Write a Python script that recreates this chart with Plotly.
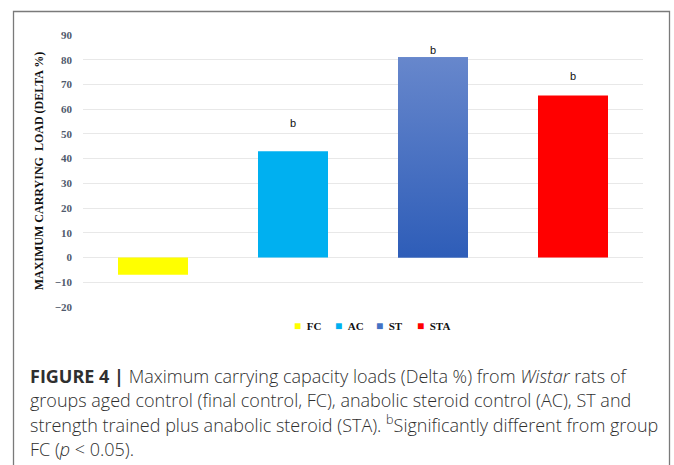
import plotly.graph_objects as go

# ---- data ----
groups = ["FC", "AC", "ST", "STA"]
delta_values = [-7, 43, 81, 65.5]
bar_colors = ["#FFFF00", "#00B0F0", "#4472C4", "#FF0000"]
sig_labels = ["", "b", "b", "b"]
sig_label_y = [None, 54.5, 84, 73.5]
st_gradient = [[0, "#2E5DB8"], [1, "#6787CC"]]
y_ticks = [-20, -10, 0, 10, 20, 30, 40, 50, 60, 70, 80, 90]
y_title = "MAXIMUM CARRYING\u00a0 LOAD (DELTA %)"
caption_lines = [
    "<b>FIGURE 4 |</b> Maximum carrying capacity loads (Delta %) from <i>Wistar</i> rats of",
    "groups aged control (final control, FC), anabolic steroid control (AC), ST and",
    "strength trained plus anabolic steroid (STA). <sup>b</sup>Significantly different from group",
    "FC (<i>p</i> &lt; 0.05).",
]

BAR_W = 0.5
xpos = list(range(len(groups)))

# plot-area geometry in pixels (layout only)
PL, PR, PT, PB = 83, 643, 35, 307
PW, PH = PR - PL, PB - PT


def px_x(p):
    return (p - PL) / PW


def px_y(p):
    return (PB - p) / PH


fig = go.Figure()
fig.add_trace(go.Bar(
    x=xpos, y=delta_values, width=BAR_W,
    marker=dict(color=bar_colors, line=dict(width=0)),
    showlegend=False, hoverinfo="skip",
))

# gradient overlay for the ST bar (same extent as its bar)
i_st = groups.index("ST")
v_st = delta_values[i_st]
fig.add_trace(go.Scatter(
    x=[i_st - BAR_W / 2, i_st + BAR_W / 2, i_st + BAR_W / 2, i_st - BAR_W / 2, i_st - BAR_W / 2],
    y=[0, 0, v_st, v_st, 0],
    mode="lines", line=dict(width=0), fill="toself",
    fillgradient=dict(type="vertical", colorscale=st_gradient),
    showlegend=False, hoverinfo="skip",
))

# legend entries: small coloured square drawn tight to the label,
# one legend per entry so the spacing follows the reference
legend_sym_px = [298, 339, 380, 421]
legend_font = dict(family="Liberation Serif", size=11, color="#111111", weight="bold")
for k, (g, c) in enumerate(zip(groups, bar_colors)):
    lname = "legend" if k == 0 else f"legend{k + 1}"
    label = f'<span style="color:{c};font-size:12px">\u25A0</span>\u00a0\u00a0{g}'
    fig.add_trace(go.Scatter(
        x=[None], y=[None], mode="markers", name=label, legend=lname,
        marker=dict(symbol="square", size=1, color="rgba(0,0,0,0)"),
    ))
    fig.update_layout({lname: dict(
        orientation="h", x=px_x(legend_sym_px[k] - 44), xanchor="left",
        y=px_y(326), yanchor="middle", font=legend_font,
        itemwidth=30, bgcolor="rgba(0,0,0,0)", borderwidth=0,
    )})

# significance letters
for xi, lab, ly in zip(xpos, sig_labels, sig_label_y):
    if lab:
        fig.add_annotation(x=xi, y=ly, text=lab, showarrow=False,
                           font=dict(family="Liberation Sans", size=11, color="#111111"))

# caption
cap_y0 = 376
cap_dy = 24.2
for k, line in enumerate(caption_lines):
    fig.add_annotation(
        xref="paper", yref="paper", x=px_x(28), y=px_y(cap_y0 + k * cap_dy),
        xanchor="left", yanchor="middle", text=line, showarrow=False, align="left",
        font=dict(family="Open Sans", size=18, color="#2f2f2f", weight=300),
    )

# frame
fig.add_shape(type="path", xref="paper", yref="paper",
              path=(f"M {px_x(13.5)},{px_y(480)} L {px_x(13.5)},{px_y(11.5)} "
                    f"L {px_x(669.5)},{px_y(11.5)} L {px_x(669.5)},{px_y(480)}"),
              line=dict(color="#7a7a7a", width=1.3))

fig.update_layout(
    width=674, height=465,
    margin=dict(l=PL, r=674 - PR, t=PT, b=465 - PB),
    paper_bgcolor="white", plot_bgcolor="white",
    showlegend=True,
    xaxis=dict(range=[-0.5, len(groups) - 0.5], showticklabels=False, showgrid=False,
               zeroline=False, showline=False, ticks=""),
    yaxis=dict(range=[-20, 90], tickvals=y_ticks, showgrid=True, gridcolor="#E8E8E8",
               gridwidth=1, zeroline=True, zerolinecolor="#E8E8E8", zerolinewidth=1,
               showline=False, ticks="", ticklabelstandoff=10,
               tickfont=dict(family="Liberation Serif", size=11, color="#505A6C", weight="bold"),
               title=dict(text=y_title, standoff=8,
                          font=dict(family="Liberation Serif", size=12, color="#111111",
                                    weight="bold"))),
)

fig.write_html("out.html")
